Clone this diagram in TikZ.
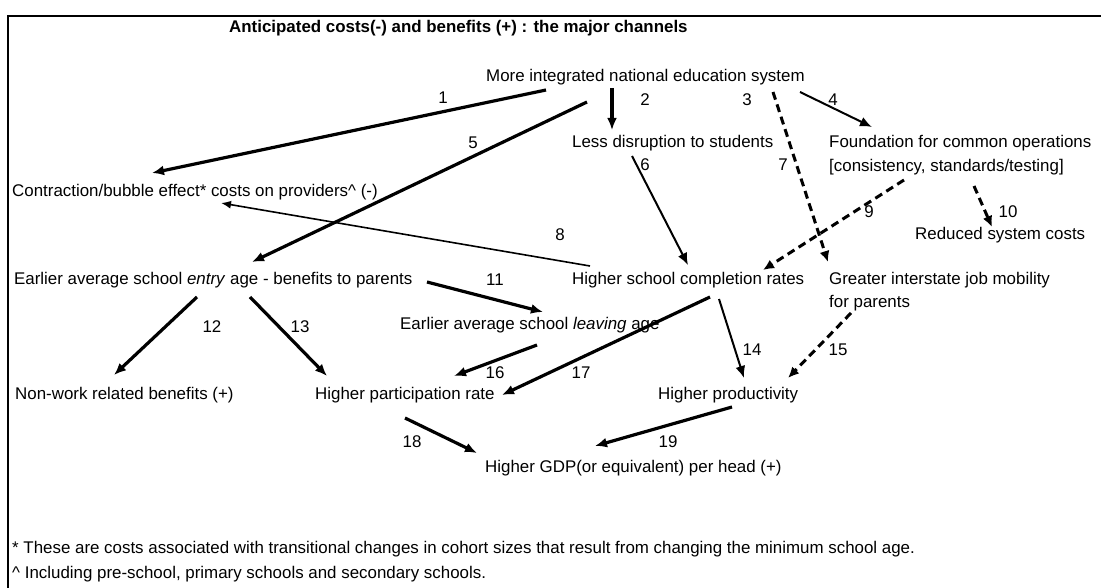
\documentclass[tikz,border=0pt]{standalone}
\usepackage{fontspec}
\setmainfont{Liberation Sans}
\usepackage{tikz}
\usetikzlibrary{positioning, arrows.meta}

\tikzset{
  txt/.style={anchor=west, inner sep=0pt, align=left, font=\fontsize{16.9}{23.5}\selectfont},
  lbl/.style={inner sep=0pt, font=\fontsize{16.9}{20}\selectfont},
  heavy/.style={line width=3.2pt, -{Latex[length=12pt, width=10pt]}},
  medium/.style={line width=2pt, -{Latex[length=12pt, width=10pt]}},
  thin/.style={line width=1.6pt, -{Latex[length=10pt, width=8pt]}},
  dashedarrow/.style={line width=3pt, dash pattern=on 8pt off 5pt, -{Latex[length=11pt, width=10pt]}}
}

\begin{document}
\begin{tikzpicture}[x=1pt, y=-1pt]
    \useasboundingbox (0,0) rectangle (1101,588);
    \draw[line width=2pt] (8,588) -- (8,16) -- (1101,16);

    \node[txt, font=\fontsize{16.9}{20}\selectfont\bfseries] (title) at (229,28) {Anticipated costs(-) and benefits (+) : the major channels};

    \node[txt] (integ) at (486,77) {More integrated national education system};
    \node[txt] (disrupt) at (572,143) {Less disruption to students};
    \node[txt] (found) at (829,155) {Foundation for common operations\\{}[consistency, standards/testing]};
    \node[txt] (contr) at (12,192) {Contraction/bubble effect* costs on providers\^{} (-)};
    \node[txt] (reduced) at (915,235) {Reduced system costs};
    \node[txt] (entry) at (14,280) {Earlier average school \emph{entry} age - benefits to parents};
    \node[txt] (compl) at (572,280) {Higher school completion rates};
    \node[txt] (mobil) at (829,291.5) {Greater interstate job mobility\\for parents};
    \node[txt] (leaving) at (400,325) {Earlier average school \emph{leaving} age};
    \node[txt] (nonwork) at (15,395) {Non-work related benefits (+)};
    \node[txt] (partic) at (315,395) {Higher participation rate};
    \node[txt] (produc) at (658,395) {Higher productivity};
    \node[txt] (gdp) at (485,468) {Higher GDP(or equivalent) per head (+)};

    \node[txt] (note1) at (12,549) {* These are costs associated with transitional changes in cohort sizes that result from changing the minimum school age.};
    \node[txt] (note2) at (12,574) {\^{} Including pre-school, primary schools and secondary schools.};

    % channels
    \draw[heavy] ([shift={(60,13)}]integ.west) -- ([shift={(140,-19)}]contr.west);
    \draw[heavy] ([shift={(126,11)}]integ.west) -- ([shift={(40,-13)}]disrupt.west);
    \draw[dashedarrow] ([shift={(287,15)}]integ.west) -- ([shift={(-1,-29.5)}]mobil.west);
    \draw[medium] ([shift={(314,15)}]integ.west) -- ([shift={(43,-28)}]found.west);
    \draw[heavy] ([shift={(101,25)}]integ.west) -- ([shift={(238,-18)}]entry.west);
    \draw[medium] ([shift={(60,13)}]disrupt.west) -- ([shift={(116,-15)}]compl.west);
    \draw[thin] ([shift={(18,-14)}]compl.west) -- ([shift={(209,11)}]contr.west);
    \draw[dashedarrow] ([shift={(75,25)}]found.west) -- ([shift={(191,-10)}]compl.west);
    \draw[dashedarrow] ([shift={(145,31)}]found.west) -- ([shift={(77,-8)}]reduced.west);
    \draw[heavy] ([shift={(413,2)}]entry.west) -- ([shift={(143,-13)}]leaving.west);
    \draw[heavy] ([shift={(183,17)}]entry.west) -- ([shift={(99,-20)}]nonwork.west);
    \draw[heavy] ([shift={(236,17)}]entry.west) -- ([shift={(12,-19)}]partic.west);
    \draw[medium] ([shift={(147,19)}]compl.west) -- ([shift={(86,-17)}]produc.west);
    \draw[dashedarrow] ([shift={(22,21.5)}]mobil.west) -- ([shift={(130,-17)}]produc.west);
    \draw[heavy] ([shift={(137,20)}]leaving.west) -- ([shift={(139,-19)}]partic.west);
    \draw[heavy] ([shift={(138,17)}]compl.west) -- ([shift={(187,0)}]partic.west);
    \draw[heavy] ([shift={(90,23)}]partic.west) -- ([shift={(-8,-15)}]gdp.west);
    \draw[heavy] ([shift={(74,12)}]produc.west) -- ([shift={(110,-22)}]gdp.west);

    % channel numbers
    \node[lbl] (n1) at (443,98) {1};
    \node[lbl] (n2) at (645,100) {2};
    \node[lbl] (n3) at (747,100) {3};
    \node[lbl] (n4) at (833,100) {4};
    \node[lbl] (n5) at (473,143) {5};
    \node[lbl] (n6) at (645,165) {6};
    \node[lbl] (n7) at (783,165) {7};
    \node[lbl] (n8) at (560,235) {8};
    \node[lbl] (n9) at (869,212) {9};
    \node[lbl] (n10) at (1008,212) {10};
    \node[lbl] (n11) at (495,280) {11};
    \node[lbl] (n12) at (212,327) {12};
    \node[lbl] (n13) at (300,327) {13};
    \node[lbl] (n14) at (752,350) {14};
    \node[lbl] (n15) at (838,350) {15};
    \node[lbl] (n16) at (495,373) {16};
    \node[lbl] (n17) at (581,373) {17};
    \node[lbl] (n18) at (412,442) {18};
    \node[lbl] (n19) at (668,442) {19};
\end{tikzpicture}
\end{document}
